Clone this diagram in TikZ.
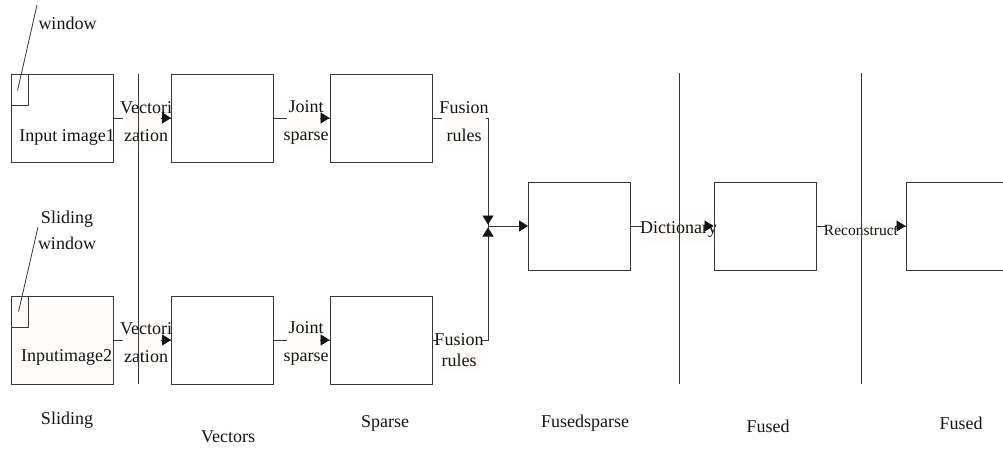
\documentclass[tikz,border=0pt]{standalone}
\usepackage{fontspec}
\setmainfont{Liberation Serif}
\usetikzlibrary{arrows.meta,calc}
\pgfdeclarelayer{shafts}
\pgfdeclarelayer{labels}
\pgfsetlayers{shafts,labels,main}
\definecolor{ink}{RGB}{20,20,20}
\definecolor{rule}{RGB}{55,55,55}
\definecolor{paper}{RGB}{254,253,251}
\begin{document}
\begin{tikzpicture}[x=1pt,y=-1pt,
  box/.style={draw=rule, line width=0.9pt, minimum width=102pt, minimum height=88pt, inner sep=0pt},
  win/.style={draw=rule, line width=0.9pt, minimum width=17pt, minimum height=31pt, inner sep=0pt, anchor=north west},
  txt/.style={text=ink, font=\fontsize{18}{26}\selectfont, inner sep=0pt, align=center},
  lab/.style={txt, fill=paper, inner xsep=-3pt, inner ysep=3pt, font=\fontsize{18}{28}\selectfont},
  link/.style={draw=rule, line width=0.8pt},
  head/.style={draw=rule, line width=0.8pt, -{Triangle[length=9pt,width=11pt,color=ink,fill=ink]}},
  sep/.style={draw=rule, line width=0.9pt},
]
\useasboundingbox (0,0) rectangle (1003,448);
\clip (0,0) rectangle (1003,448);

% processing boxes
\node[box] (in1) at (62,118) {};
\node[box] (vec1) at (222.5,118) {};
\node[box] (sp1) at (381,118) {};
\node[box, fill=paper] (in2) at (62,340) {};
\node[box] (vec2) at (222.5,340) {};
\node[box] (sp2) at (381,340) {};
\node[box] (fs) at (579.5,226) {};
\node[box] (fd) at (765,226) {};
\node[box] (rec) at (957,226) {};

% sliding windows and their pointers
\node[win] (w1) at (in1.north west) {};
\node[win] (w2) at (in2.north west) {};
\coordinate (p1) at (37,5);
\coordinate (p2) at (38,227);
\draw[link] (p1) -- ($(w1.north west)+(7,17)$);
\draw[link] (p2) -- ($(w2.north west)+(8,16)$);
\node[txt] (t1) at (67.5,23) {window};
\node[txt] (t2) at (67,230) {Sliding\\window};
\node[txt] (in1t) at (67,137) {Input image1};
\node[txt] (in2t) at (66.5,357) {Inputimage2};

% merge point of the two fusion branches
\coordinate (m) at (488,226);

% connector shafts, kept under the labels
\begin{pgfonlayer}{shafts}
\draw[link] (in1.east) -- (vec1.west);
\draw[link] (vec1.east) -- (sp1.west);
\draw[link] (in2.east) -- (vec2.west);
\draw[link] (vec2.east) -- (sp2.west);
\draw[link] (sp1.east) -| (m);
\draw[link] (sp2.east) -| (m);
\draw[link] (fs.east) -- (fd.west);
\draw[link] (fd.east) -- (rec.west);
\end{pgfonlayer}

% connector labels
\begin{pgfonlayer}{labels}
\node[lab] (l1) at (146,122) {Vectori\\zation};
\node[lab] (l2) at (306,122) {Joint\\sparse};
\node[lab] (l3) at (464,122) {Fusion\\rules};
\node[lab] (l4) at (146,343) {Vectori\\zation};
\node[lab] (l5) at (306,343.5) {Joint\\sparse};
\node[lab, font=\fontsize{18}{21}\selectfont] (l6) at (459,350) {Fusion\\rules};
\node[lab, inner ysep=6pt] (l7) at (678.5,229) {Dictionary};
\node[lab, font=\fontsize{15.5}{18}\selectfont] (l8) at (861,230) {Reconstruct};
\end{pgfonlayer}

% arrow heads on top of the labels
\draw[head] ([xshift=-10pt]vec1.west) -- (vec1.west);
\draw[head] ([xshift=-10pt]sp1.west) -- (sp1.west);
\draw[head] ([xshift=-10pt]vec2.west) -- (vec2.west);
\draw[head] ([xshift=-10pt]sp2.west) -- (sp2.west);
\draw[head] ([xshift=-10pt]fd.west) -- (fd.west);
\draw[head] ([xshift=-10pt]rec.west) -- (rec.west);
\draw[head] ($(m)+(0,-14)$) -- ($(m)+(0,-1.5)$);
\draw[head] ($(m)+(0,14)$) -- ($(m)+(0,1.5)$);
\draw[head] (m) -- (fs.west);

% stage separators
\coordinate (s1t) at (138,74);  \coordinate (s1b) at (138,384);
\coordinate (s2t) at (679,73);  \coordinate (s2b) at (679,384);
\coordinate (s3t) at (861,73);  \coordinate (s3b) at (861,384);
\draw[sep] (s1t) -- (s1b);
\draw[sep] (s2t) -- (s2b);
\draw[sep] (s3t) -- (s3b);

% stage captions
\node[txt] (c1) at (67,420) {Sliding};
\node[txt] (c2) at (228,437) {Vectors};
\node[txt] (c3) at (385,423) {Sparse};
\node[txt] (c4) at (585,423) {Fusedsparse};
\node[txt] (c5) at (768,426) {Fused};
\node[txt] (c6) at (961,423) {Fused};
\end{tikzpicture}
\end{document}
